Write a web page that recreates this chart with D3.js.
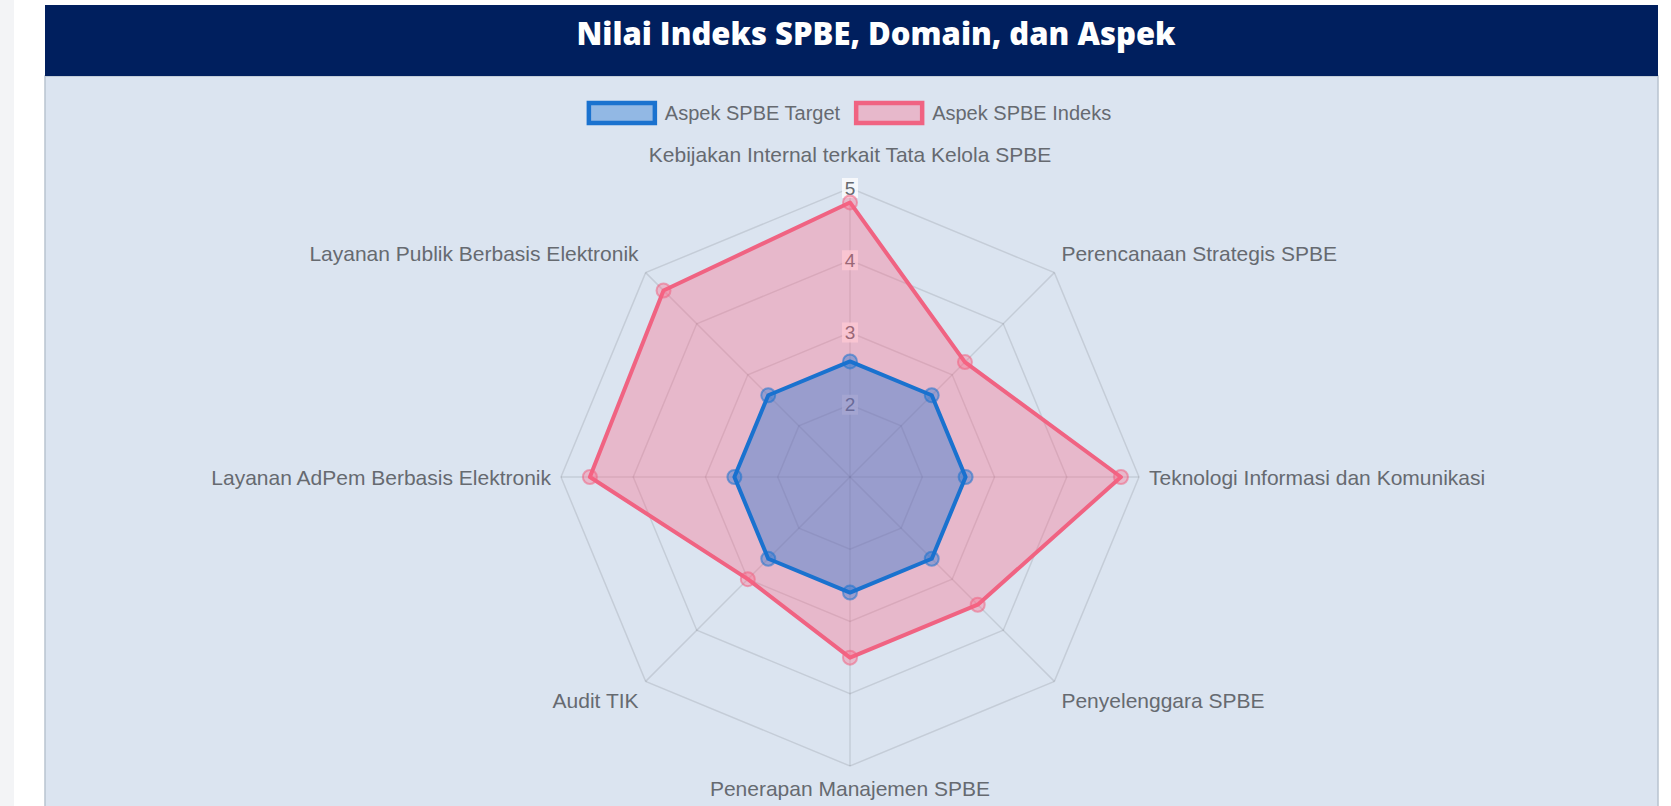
<!DOCTYPE html>
<html>
<head>
<meta charset="utf-8">
<script src="https://cdn.jsdelivr.net/npm/d3@7"></script>
<style>
  body { margin: 0; background: #ffffff; }
  svg { display: block; }
</style>
</head>
<body>
<svg id="chart"></svg>
<script>
// Data
const axes = [
    "Kebijakan Internal terkait Tata Kelola SPBE",
    "Perencanaan Strategis SPBE",
    "Teknologi Informasi dan Komunikasi",
    "Penyelenggara SPBE",
    "Penerapan Manajemen SPBE",
    "Audit TIK",
    "Layanan AdPem Berbasis Elektronik",
    "Layanan Publik Berbasis Elektronik"
];
const seriesNames = ["Aspek SPBE Target", "Aspek SPBE Indeks"];
const targetValues = [2.6, 2.6, 2.6, 2.6, 2.6, 2.6, 2.6, 2.6];
const indeksValues = [4.8, 3.25, 4.75, 3.5, 3.5, 3.0, 4.6, 4.65];
const tickValues = [2, 3, 4, 5];
const title = "Nilai Indeks SPBE, Domain, dan Aspek";

const W = 1671, H = 806;
const cx = 850, cy = 477, R = 289;
const labelSize = 21, legendSize = 20, tickSize = 19;
const labelColor = "#666a70";

const colors = [
    { stroke: "#1a72cf", fill: "rgba(25,114,207,0.38)" },
    { stroke: "#f06382", fill: "rgba(255,99,132,0.34)" }
];

const svg = d3.select("#chart").attr("width", W).attr("height", H);

// page + card
svg.append("rect").attr("width", W).attr("height", H).attr("fill", "#ffffff");
svg.append("rect").attr("width", 14).attr("height", H).attr("fill", "#f3f4f6");
svg.append("rect").attr("x", 45).attr("y", 76).attr("width", 1613).attr("height", H)
    .attr("fill", "#dbe4f0").attr("stroke", "#b9c3d0").attr("stroke-width", 1.5);
svg.append("rect").attr("x", 45).attr("y", 5).attr("width", 1613).attr("height", 71)
    .attr("fill", "#001f5e");

svg.append("text")
    .attr("x", 876).attr("y", 33)
    .attr("text-anchor", "middle")
    .attr("dominant-baseline", "central")
    .attr("fill", "#ffffff")
    .style("font-family", "'Open Sans', Lato, sans-serif")
    .style("font-weight", 800)
    .style("font-size", "31px")
    .text(title);

// Scales
const r = d3.scaleLinear().domain([1, 5]).range([0, R]);
const angle = d3.scaleLinear().domain([0, axes.length]).range([0, 2 * Math.PI]);

const g = svg.append("g").attr("transform", `translate(${cx},${cy})`);

// grid rings
const ring = d3.lineRadial()
    .angle((d, i) => angle(i))
    .radius(d => r(d))
    .curve(d3.curveLinearClosed);

g.selectAll(".ring")
    .data(tickValues)
    .enter().append("path")
    .attr("class", "ring")
    .attr("d", v => ring(axes.map(() => v)))
    .attr("fill", "none")
    .attr("stroke", "rgba(0,0,0,0.1)")
    .attr("stroke-width", 1.5);

// angle lines
g.selectAll(".spoke")
    .data(axes)
    .enter().append("line")
    .attr("class", "spoke")
    .attr("x1", 0).attr("y1", 0)
    .attr("x2", (d, i) => r(5) * Math.sin(angle(i)))
    .attr("y2", (d, i) => -r(5) * Math.cos(angle(i)))
    .attr("stroke", "rgba(0,0,0,0.1)")
    .attr("stroke-width", 1.5);

// point labels
const pad = 10, lineH = 24;
axes.forEach((name, i) => {
    const a = angle(i);
    const deg = Math.round(a * 180 / Math.PI);
    const dist = r(5) + pad + (i === 0 ? 12 : 0);
    const px = dist * Math.sin(a);
    const py = -dist * Math.cos(a);
    let anchor = "middle";
    if (deg > 0 && deg < 180) anchor = "start";
    else if (deg > 180) anchor = "end";
    let yc = py;
    if (deg === 90 || deg === 270) yc = py;
    else if (deg > 270 || deg < 90) yc = py - lineH / 2;
    else yc = py + lineH / 2;
    g.append("text")
        .attr("x", px).attr("y", yc)
        .attr("text-anchor", anchor)
        .attr("dominant-baseline", "central")
        .attr("fill", labelColor)
        .style("font-family", "'Liberation Sans', Arial, sans-serif")
        .style("font-size", labelSize + "px")
        .text(name);
});

// tick labels with backdrop
tickValues.forEach(v => {
    const t = g.append("g").attr("transform", `translate(0,${-r(v)})`);
    t.append("rect").attr("x", -8).attr("y", -10).attr("width", 16).attr("height", 20)
        .attr("fill", "rgba(255,255,255,0.75)");
    t.append("text")
        .attr("text-anchor", "middle")
        .attr("dominant-baseline", "central")
        .attr("fill", labelColor)
        .style("font-family", "'Liberation Sans', Arial, sans-serif")
        .style("font-size", tickSize + "px")
        .text(v);
});

// datasets (indeks below, target on top)
const datasets = [targetValues, indeksValues];
const area = d3.lineRadial()
    .angle((d, i) => angle(i))
    .radius(d => r(d))
    .curve(d3.curveLinearClosed);

[1, 0].forEach(k => {
    const vals = datasets[k];
    g.append("path")
        .attr("d", area(vals))
        .attr("fill", colors[k].fill)
        .attr("stroke", colors[k].stroke)
        .attr("stroke-width", 4)
        .attr("stroke-linejoin", "round");
    g.selectAll(".pt-" + k)
        .data(vals)
        .enter().append("circle")
        .attr("class", "pt-" + k)
        .attr("cx", (d, i) => r(d) * Math.sin(angle(i)))
        .attr("cy", (d, i) => -r(d) * Math.cos(angle(i)))
        .attr("r", 7)
        .attr("fill", colors[k].fill)
        .attr("stroke", colors[k].stroke)
        .attr("stroke-opacity", 0.55)
        .attr("stroke-width", 2);
});

// Legend
const legend = svg.append("g");
const boxW = 66, boxH = 20, gap = legendSize / 2, itemPad = 16;
let lx = 0;
seriesNames.forEach((name, k) => {
    const item = legend.append("g").attr("transform", `translate(${lx},0)`);
    item.append("rect").attr("x", 0).attr("y", -boxH / 2).attr("width", boxW).attr("height", boxH)
        .attr("fill", colors[k].fill).attr("stroke", colors[k].stroke).attr("stroke-width", 4.5);
    const txt = item.append("text")
        .attr("x", boxW + gap).attr("y", 0)
        .attr("dominant-baseline", "central")
        .attr("fill", labelColor)
        .style("font-family", "'Liberation Sans', Arial, sans-serif")
        .style("font-size", legendSize + "px")
        .text(name);
    lx += boxW + gap + txt.node().getComputedTextLength() + itemPad;
});
lx -= itemPad;
legend.attr("transform", `translate(${cx - lx / 2},113)`);
</script>
</body>
</html>
